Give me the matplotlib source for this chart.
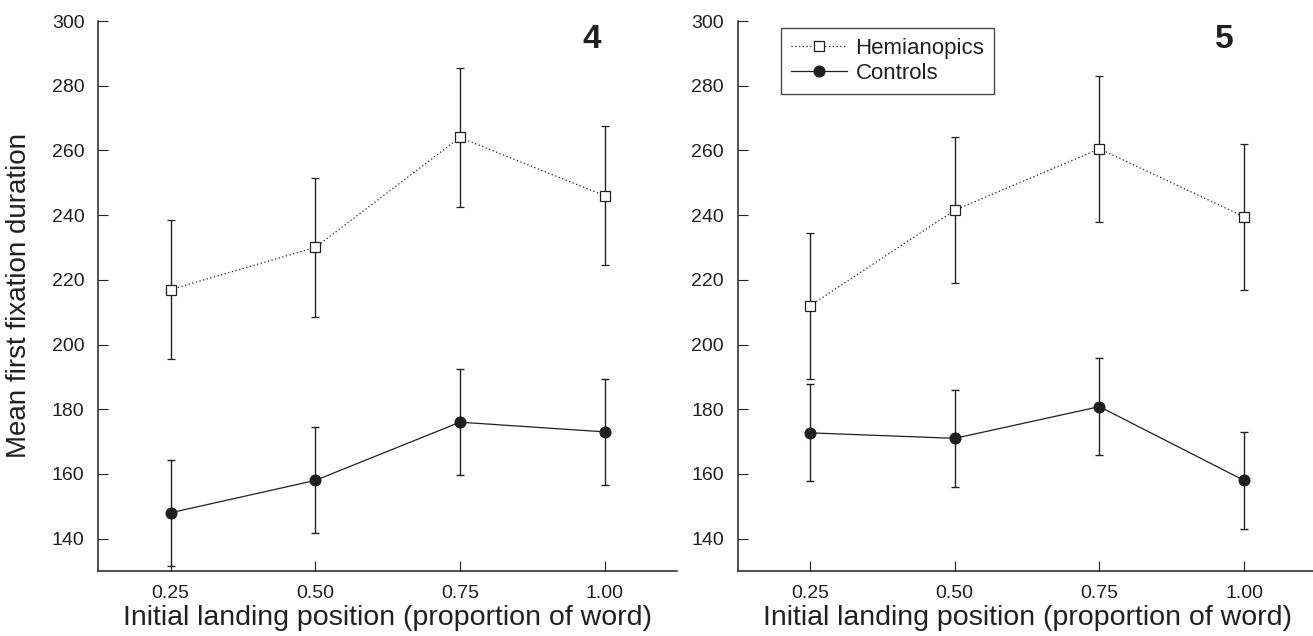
import numpy as np
import matplotlib
matplotlib.use("Agg")
import matplotlib.pyplot as plt
from matplotlib.lines import Line2D

# --- DATA ---
positions = [0.25, 0.50, 0.75, 1.00]
tick_labels = ["0.25", "0.50", "0.75", "1.00"]
y_ticks = [140, 160, 180, 200, 220, 240, 260, 280, 300]

panel_names = ["4", "5"]
hemi_means = [[217, 230, 264, 246],
              [212, 241.5, 260.5, 239.5]]
hemi_err = [[21.5, 21.5, 21.5, 21.5],
            [22.6, 22.6, 22.6, 22.6]]
ctrl_means = [[148, 158, 176, 173],
              [172.7, 171, 180.8, 158]]
ctrl_err = [[16.4, 16.4, 16.4, 16.4],
            [15, 15, 15, 15]]

INK = "#231f20"
plt.rcParams['font.family'] = ['Liberation Sans', 'DejaVu Sans']

fig = plt.figure(figsize=(13.13, 6.36), dpi=100)
W, H = 1313, 636
ax_w = 578.7 / W
ax_b = 1 - 571 / H
ax_h = 550 / H
lefts = [98.3 / W, 737.7 / W]

for i, name in enumerate(panel_names):
    ax = fig.add_axes([lefts[i], ax_b, ax_w, ax_h])

    # hemianopics: dotted line, open squares
    ax.errorbar(positions, hemi_means[i], yerr=hemi_err[i], color=INK,
                linestyle=(0, (1, 2)), linewidth=0.9, marker='s', markersize=7.5,
                markerfacecolor='white', markeredgecolor=INK, markeredgewidth=0.9,
                ecolor=INK, elinewidth=1.0, capsize=3, capthick=1.0, zorder=3)
    # controls: solid line, filled circles
    ax.errorbar(positions, ctrl_means[i], yerr=ctrl_err[i], color=INK,
                linestyle='-', linewidth=0.9, marker='o', markersize=7.7,
                markerfacecolor=INK, markeredgecolor=INK,
                ecolor=INK, elinewidth=1.0, capsize=3, capthick=1.0, zorder=3)

    ax.set_xlim(0.125, 1.125)
    ax.set_ylim(130, 300)
    ax.set_xticks(positions)
    ax.set_xticklabels(tick_labels)
    ax.set_yticks(y_ticks)
    ax.tick_params(direction='in', length=7, width=0.8, colors=INK,
                   labelsize=14, pad=10)
    for s in ['top', 'right']:
        ax.spines[s].set_visible(False)
    for s in ['left', 'bottom']:
        ax.spines[s].set_color(INK)
        ax.spines[s].set_linewidth(1.1)

    ax.set_xlabel("Initial landing position (proportion of word)", fontsize=20.5, color=INK)
    ax.xaxis.set_label_coords(0.5, -0.062)
    if i == 0:
        ax.set_ylabel("Mean first fixation duration", fontsize=20, color=INK)
        ax.yaxis.set_label_coords(-0.115, 0.5)

    x_num = 0.853 if i == 0 else 0.840
    ax.text(x_num, 0.966, name, transform=ax.transAxes, fontsize=24,
            fontweight='bold', ha='center', va='center', color=INK)

    if i == 1:
        handles = [
            Line2D([], [], color=INK, linestyle=(0, (1, 2)), linewidth=0.9, marker='s',
                   markersize=7.5, markerfacecolor='white', markeredgecolor=INK,
                   markeredgewidth=0.9),
            Line2D([], [], color=INK, linestyle='-', linewidth=0.9, marker='o',
                   markersize=7.7, markerfacecolor=INK, markeredgecolor=INK),
        ]
        leg = ax.legend(handles, ["Hemianopics", "Controls"], loc='upper left',
                        bbox_to_anchor=(0.075, 0.988), fontsize=16, frameon=True,
                        fancybox=False, edgecolor=INK, handlelength=2.5,
                        handletextpad=0.4, labelspacing=0.2, borderpad=0.45,
                        borderaxespad=0)
        leg.get_frame().set_linewidth(1.0)
        for t in leg.get_texts():
            t.set_color(INK)

fig.savefig("out.png", dpi=100)
